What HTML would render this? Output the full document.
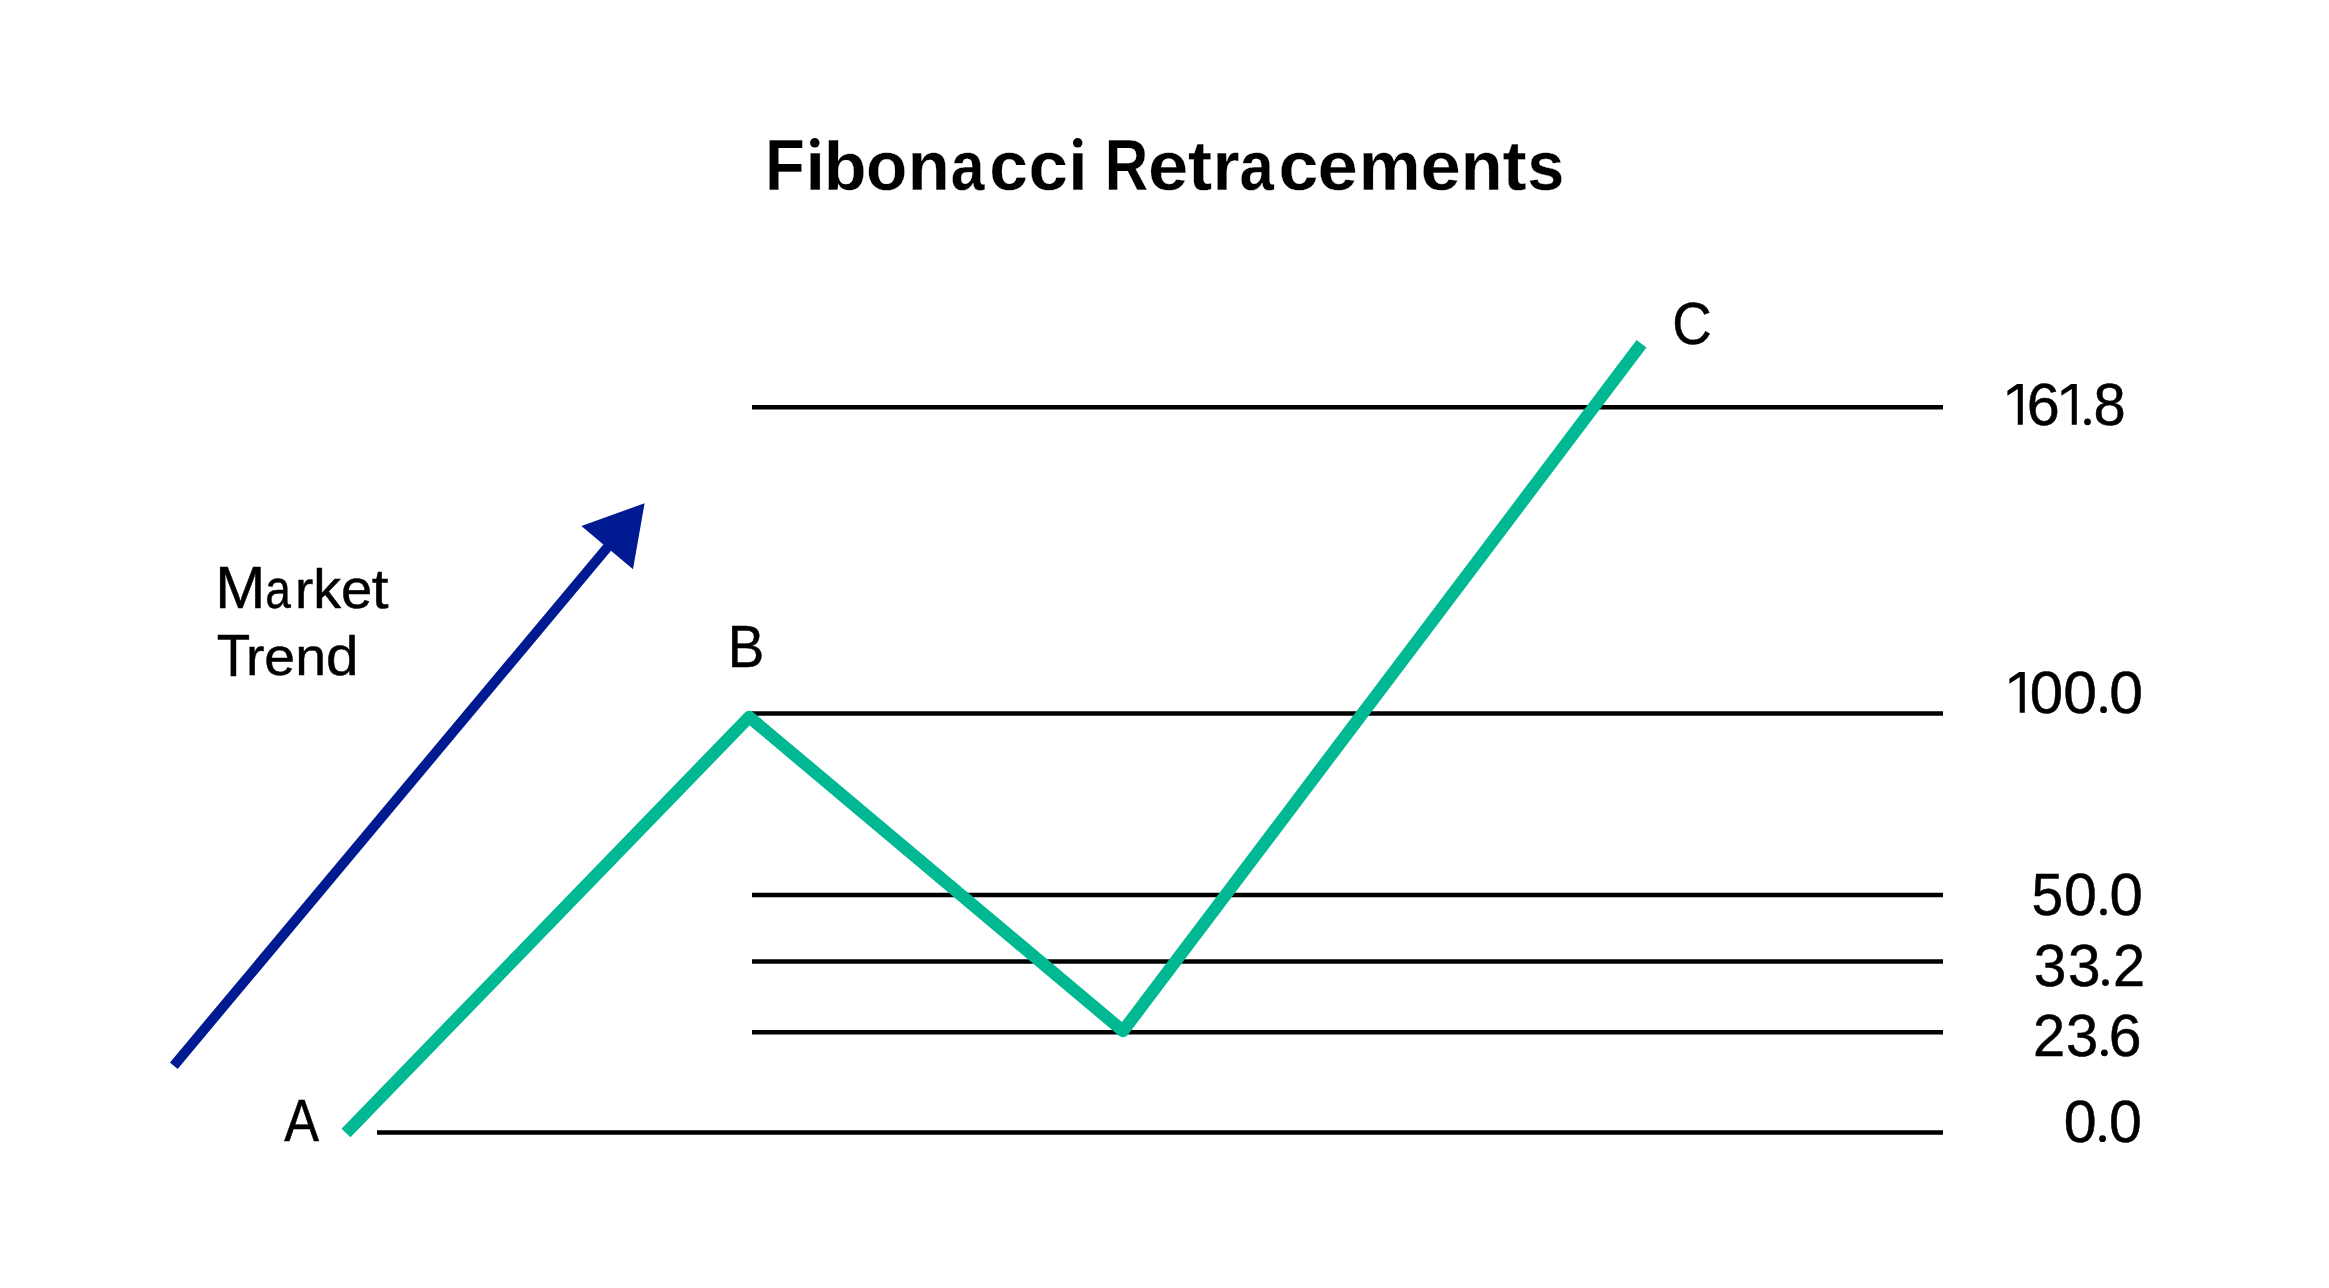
<!DOCTYPE html>
<html>
<head>
<meta charset="utf-8">
<style>
html,body{margin:0;padding:0;background:#fff;width:2329px;height:1288px;overflow:hidden;}
svg{position:absolute;left:0;top:0;display:block;}
text{font-family:"Liberation Sans",sans-serif;fill:#000;stroke:#000;stroke-width:0.5px;}
#title text{stroke:#fff;stroke-width:0.3px;}
#title circle{fill:#000;}
#numbers polygon,#numbers circle{fill:#000;stroke:none;}
</style>
</head>
<body>
<svg width="2329" height="1288" viewBox="0 0 2329 1288">
  <!-- title -->
  <g id="title" font-size="72.7" font-weight="bold">
    <text x="765.02" y="189.8" textLength="39.80" lengthAdjust="spacingAndGlyphs">F</text>
    <text x="805.21" y="189.8" textLength="19.78" lengthAdjust="spacingAndGlyphs" transform="translate(0 189.8) scale(1 0.9686) translate(0 -189.8)">ı</text>
    <text x="823.78" y="189.8" textLength="42.82" lengthAdjust="spacingAndGlyphs" transform="translate(0 189.8) scale(1 0.9486) translate(0 -189.8)">b</text>
    <text x="866.01" y="189.8" textLength="41.29" lengthAdjust="spacingAndGlyphs" transform="translate(0 189.8) scale(1 0.9667) translate(0 -189.8)">o</text>
    <text x="907.87" y="189.8" textLength="41.98" lengthAdjust="spacingAndGlyphs" transform="translate(0 189.8) scale(1 0.9667) translate(0 -189.8)">n</text>
    <text x="950.78" y="189.8" textLength="33.80" lengthAdjust="spacingAndGlyphs" transform="translate(0 189.8) scale(1 0.9667) translate(0 -189.8)">a</text>
    <text x="989.23" y="189.8" textLength="38.70" lengthAdjust="spacingAndGlyphs" transform="translate(0 189.8) scale(1 0.9667) translate(0 -189.8)">c</text>
    <text x="1028.57" y="189.8" textLength="39.51" lengthAdjust="spacingAndGlyphs" transform="translate(0 189.8) scale(1 0.9667) translate(0 -189.8)">c</text>
    <text x="1067.91" y="189.8" textLength="19.78" lengthAdjust="spacingAndGlyphs" transform="translate(0 189.8) scale(1 0.9686) translate(0 -189.8)">ı</text>
    <text x="1104.75" y="189.8" textLength="43.54" lengthAdjust="spacingAndGlyphs">R</text>
    <text x="1148.01" y="189.8" textLength="40.32" lengthAdjust="spacingAndGlyphs" transform="translate(0 189.8) scale(1 0.9667) translate(0 -189.8)">e</text>
    <text x="1187.90" y="189.8" textLength="24.10" lengthAdjust="spacingAndGlyphs" transform="translate(0 189.8) scale(1 0.9725) translate(0 -189.8)">t</text>
    <text x="1212.53" y="189.8" textLength="27.01" lengthAdjust="spacingAndGlyphs" transform="translate(0 189.8) scale(1 0.9667) translate(0 -189.8)">r</text>
    <text x="1239.55" y="189.8" textLength="34.33" lengthAdjust="spacingAndGlyphs" transform="translate(0 189.8) scale(1 0.9667) translate(0 -189.8)">a</text>
    <text x="1278.53" y="189.8" textLength="39.97" lengthAdjust="spacingAndGlyphs" transform="translate(0 189.8) scale(1 0.9667) translate(0 -189.8)">c</text>
    <text x="1317.41" y="189.8" textLength="40.32" lengthAdjust="spacingAndGlyphs" transform="translate(0 189.8) scale(1 0.9667) translate(0 -189.8)">e</text>
    <text x="1358.72" y="189.8" textLength="61.82" lengthAdjust="spacingAndGlyphs" transform="translate(0 189.8) scale(1 0.9667) translate(0 -189.8)">m</text>
    <text x="1420.51" y="189.8" textLength="40.32" lengthAdjust="spacingAndGlyphs" transform="translate(0 189.8) scale(1 0.9667) translate(0 -189.8)">e</text>
    <text x="1460.79" y="189.8" textLength="41.85" lengthAdjust="spacingAndGlyphs" transform="translate(0 189.8) scale(1 0.9667) translate(0 -189.8)">n</text>
    <text x="1502.40" y="189.8" textLength="24.10" lengthAdjust="spacingAndGlyphs" transform="translate(0 189.8) scale(1 0.9725) translate(0 -189.8)">t</text>
    <text x="1527.14" y="189.8" textLength="37.03" lengthAdjust="spacingAndGlyphs" transform="translate(0 189.8) scale(1 0.9667) translate(0 -189.8)">s</text>
    <circle cx="814.8" cy="142.8" r="4.75"/>
    <circle cx="1077.7" cy="142.8" r="4.75"/>
  </g>

  <!-- fib lines -->
  <g stroke="#000" stroke-width="4.5" fill="none">
    <line x1="752" y1="407.3" x2="1943" y2="407.3"/>
    <line x1="752" y1="713.6" x2="1943" y2="713.6"/>
    <line x1="752" y1="894.9" x2="1943" y2="894.9"/>
    <line x1="752" y1="961.4" x2="1943" y2="961.4"/>
    <line x1="752" y1="1032.3" x2="1943" y2="1032.3"/>
    <line x1="377" y1="1132.4" x2="1943" y2="1132.4"/>
  </g>

  <!-- market trend arrow -->
  <polygon points="169.97,1062.49 603.37,544.39 581.4,526.1 644.6,503.2 633,569.2 611.04,550.81 177.64,1068.91" fill="#001a92"/>

  <!-- price path -->
  <polyline points="346,1133 749.2,717 1123,1031 1641.5,343.8" fill="none" stroke="#00b993" stroke-width="12.4" stroke-linejoin="round" stroke-linecap="butt"/>

  <!-- labels -->
  <g id="labels" font-size="58.5">
    <text x="215.18" y="607.6" textLength="50.08" lengthAdjust="spacingAndGlyphs">M</text>
    <text x="265.37" y="607.6" textLength="25.62" lengthAdjust="spacingAndGlyphs" transform="translate(0 607.6) scale(1 0.9338) translate(0 -607.6)">a</text>
    <text x="295.11" y="607.6" textLength="18.33" lengthAdjust="spacingAndGlyphs" transform="translate(0 607.6) scale(1 0.9211) translate(0 -607.6)">r</text>
    <text x="313.38" y="607.6" textLength="27.79" lengthAdjust="spacingAndGlyphs" transform="translate(0 607.6) scale(1 0.9485) translate(0 -607.6)">k</text>
    <text x="340.89" y="607.6" textLength="31.26" lengthAdjust="spacingAndGlyphs" transform="translate(0 607.6) scale(1 0.9338) translate(0 -607.6)">e</text>
    <text x="371.68" y="607.6" textLength="16.78" lengthAdjust="spacingAndGlyphs" transform="translate(0 607.6) scale(1 0.9633) translate(0 -607.6)">t</text>
    <text x="216.67" y="675.5" textLength="33.39" lengthAdjust="spacingAndGlyphs">T</text>
    <text x="246.09" y="675.5" textLength="18.46" lengthAdjust="spacingAndGlyphs" transform="translate(0 675.5) scale(1 0.9211) translate(0 -675.5)">r</text>
    <text x="264.22" y="675.5" textLength="30.79" lengthAdjust="spacingAndGlyphs" transform="translate(0 675.5) scale(1 0.9306) translate(0 -675.5)">e</text>
    <text x="295.18" y="675.5" textLength="30.87" lengthAdjust="spacingAndGlyphs" transform="translate(0 675.5) scale(1 0.9211) translate(0 -675.5)">n</text>
    <text x="326.00" y="675.5" textLength="32.54" lengthAdjust="spacingAndGlyphs" transform="translate(0 675.5) scale(1 0.9485) translate(0 -675.5)">d</text>
    <text x="284.18" y="1141.4" textLength="34.76" lengthAdjust="spacingAndGlyphs">A</text>
    <text x="727.78" y="666.5" textLength="36.56" lengthAdjust="spacingAndGlyphs">B</text>
    <text x="1672.28" y="343.8" textLength="39.44" lengthAdjust="spacingAndGlyphs">C</text>
  </g>

  <g id="numbers" font-size="58.5">
    <polygon points="2022.80,384.06 2017.15,384.06 2007.40,390.86 2007.40,395.76 2017.75,389.01 2017.75,424.80 2022.80,424.80"/>
    <text x="2026.86" y="424.55" textLength="33.01" lengthAdjust="spacingAndGlyphs">6</text>
    <polygon points="2076.80,384.06 2071.15,384.06 2061.40,390.86 2061.40,395.76 2071.75,389.01 2071.75,424.80 2076.80,424.80"/>
    <circle cx="2087.5" cy="421.8" r="3.4"/>
    <text x="2093.42" y="424.55" textLength="32.19" lengthAdjust="spacingAndGlyphs">8</text>
    <polygon points="2024.80,672.06 2019.15,672.06 2009.40,678.86 2009.40,683.76 2019.75,677.01 2019.75,712.85 2024.80,712.85"/>
    <text x="2029.65" y="712.6" textLength="33.34" lengthAdjust="spacingAndGlyphs">0</text>
    <text x="2063.33" y="712.6" textLength="33.68" lengthAdjust="spacingAndGlyphs">0</text>
    <circle cx="2103.55" cy="709.65" r="3.4"/>
    <text x="2109.32" y="712.6" textLength="33.79" lengthAdjust="spacingAndGlyphs">0</text>
    <text x="2031.46" y="914.6" textLength="31.61" lengthAdjust="spacingAndGlyphs">5</text>
    <text x="2063.98" y="914.6" textLength="32.88" lengthAdjust="spacingAndGlyphs">0</text>
    <circle cx="2103.5" cy="911.9" r="3.4"/>
    <text x="2109.55" y="914.6" textLength="33.34" lengthAdjust="spacingAndGlyphs">0</text>
    <text x="2033.89" y="985.55" textLength="32.65" lengthAdjust="spacingAndGlyphs">3</text>
    <text x="2067.90" y="985.55" textLength="32.54" lengthAdjust="spacingAndGlyphs">3</text>
    <circle cx="2105.45" cy="982.6" r="3.4"/>
    <text x="2112.94" y="985.55" textLength="32.06" lengthAdjust="spacingAndGlyphs">2</text>
    <text x="2032.93" y="1055.55" textLength="32.18" lengthAdjust="spacingAndGlyphs">2</text>
    <text x="2066.12" y="1055.55" textLength="32.19" lengthAdjust="spacingAndGlyphs">3</text>
    <circle cx="2104.4" cy="1052.8" r="3.4"/>
    <text x="2108.88" y="1055.55" textLength="32.77" lengthAdjust="spacingAndGlyphs">6</text>
    <text x="2063.78" y="1141.6" textLength="32.88" lengthAdjust="spacingAndGlyphs">0</text>
    <circle cx="2102.55" cy="1138.65" r="3.4"/>
    <text x="2108.88" y="1141.6" textLength="32.88" lengthAdjust="spacingAndGlyphs">0</text>
  </g>
</svg>
</body>
</html>
